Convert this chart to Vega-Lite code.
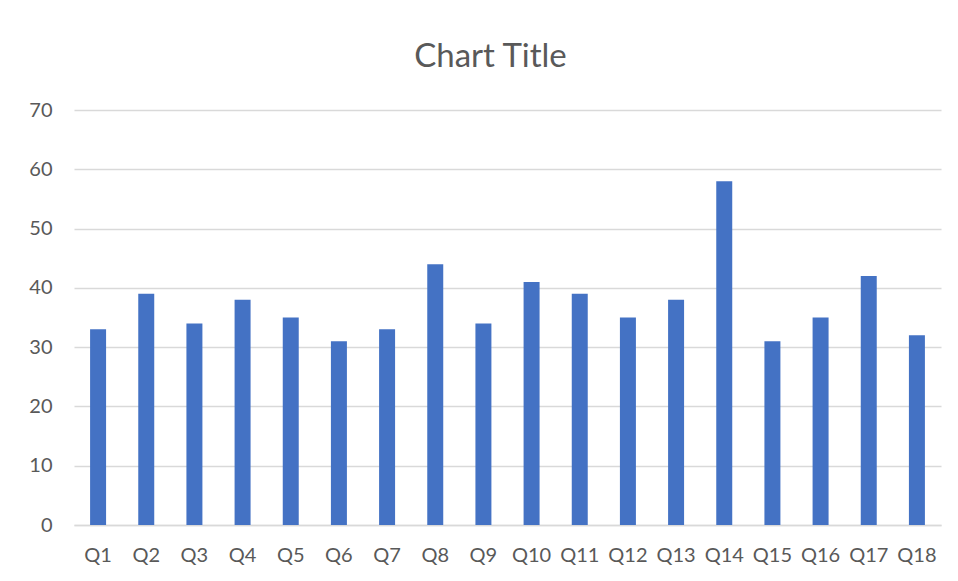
{
  "$schema": "https://vega.github.io/schema/vega-lite/v6.json",
  "width": 867,
  "height": 415,
  "autosize": "none",
  "padding": {"left": 74, "top": 110, "right": 17, "bottom": 56},
  "background": "white",
  "title": {
    "text": "Chart Title",
    "font": "Lato",
    "fontSize": 33,
    "fontWeight": "normal",
    "color": "#595959",
    "anchor": "middle",
    "dx": -17,
    "offset": 26
  },
  "data": {
    "values": [
      {"q": "Q1", "v": 33}, {"q": "Q2", "v": 39}, {"q": "Q3", "v": 34},
      {"q": "Q4", "v": 38}, {"q": "Q5", "v": 35}, {"q": "Q6", "v": 31},
      {"q": "Q7", "v": 33}, {"q": "Q8", "v": 44}, {"q": "Q9", "v": 34},
      {"q": "Q10", "v": 41}, {"q": "Q11", "v": 39}, {"q": "Q12", "v": 35},
      {"q": "Q13", "v": 38}, {"q": "Q14", "v": 58}, {"q": "Q15", "v": 31},
      {"q": "Q16", "v": 35}, {"q": "Q17", "v": 42}, {"q": "Q18", "v": 32}
    ]
  },
  "mark": {"type": "bar", "color": "#4472C4"},
  "encoding": {
    "x": {
      "field": "q", "type": "nominal", "sort": null,
      "scale": {"paddingInner": 0.668, "paddingOuter": 0.334},
      "axis": {
        "title": null, "labelAngle": 0, "ticks": false,
        "domainColor": "#d9d9d9", "domainWidth": 1.5,
        "labelFont": "Lato", "labelFontSize": 20, "labelColor": "#595959",
        "labelPadding": 20, "grid": false
      }
    },
    "y": {
      "field": "v", "type": "quantitative",
      "scale": {"domain": [0, 70], "nice": false},
      "axis": {
        "title": null, "values": [0, 10, 20, 30, 40, 50, 60, 70],
        "ticks": false, "domain": false,
        "gridColor": "#d9d9d9", "gridWidth": 1.5,
        "labelFont": "Lato", "labelFontSize": 20, "labelColor": "#595959",
        "labelPadding": 22
      }
    }
  },
  "config": {"view": {"stroke": null}}
}
